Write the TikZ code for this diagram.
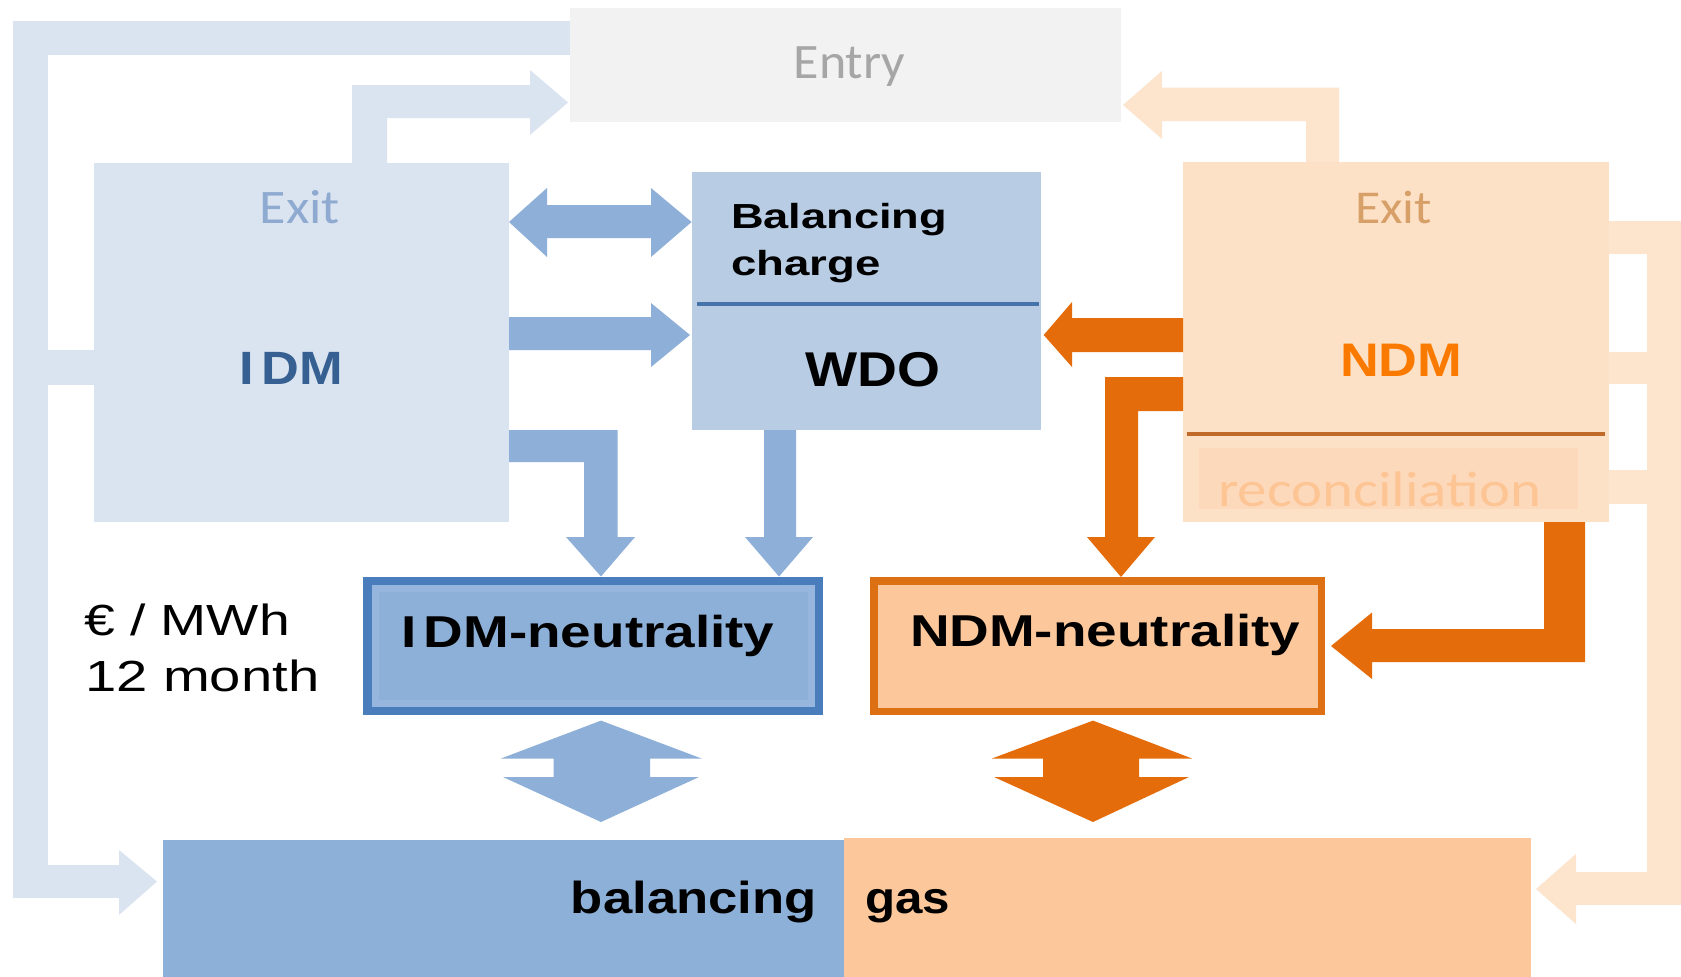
\documentclass[tikz,border=0pt]{standalone}
\usepackage{graphicx}
\usepackage{fontspec}
\setmainfont{Liberation Sans}
\newfontfamily\calibrifont{Carlito}
\newcommand{\myfs}[1]{\fontsize{#1pt}{#1pt}\selectfont}
\definecolor{lightblue}{RGB}{218,228,241}
\definecolor{lightpeach}{RGB}{253,228,204}
\definecolor{ndmbox}{RGB}{253,225,198}
\definecolor{reconfill}{RGB}{253,217,188}
\definecolor{recontxt}{RGB}{253,196,148}
\definecolor{entryfill}{RGB}{242,242,242}
\definecolor{entrytxt}{RGB}{166,166,166}
\definecolor{exitblue}{RGB}{143,170,208}
\definecolor{exittan}{RGB}{215,160,105}
\definecolor{idmtxt}{RGB}{54,96,146}
\definecolor{ndmtxt}{RGB}{250,122,0}
\definecolor{midblue}{RGB}{141,175,216}
\definecolor{wdofill}{RGB}{184,204,228}
\definecolor{wdoline}{RGB}{70,115,170}
\definecolor{darkblue}{RGB}{74,125,187}
\definecolor{bandblue}{RGB}{150,182,222}
\definecolor{neutblue}{RGB}{141,176,216}
\definecolor{orange}{RGB}{228,108,10}
\definecolor{neutorange}{RGB}{222,112,20}
\definecolor{peach}{RGB}{252,200,155}
\definecolor{brownline}{RGB}{192,105,40}
\tikzset{
  lbl/.style={inner sep=0pt, outer sep=0pt},
  lbfill/.style={fill=lightblue},
  pkfill/.style={fill=lightpeach},
  bluearrow/.style={fill=midblue},
  orangearrow/.style={fill=orange},
}
\begin{document}
\begin{tikzpicture}[x=0.02cm,y=-0.02cm]
\useasboundingbox[fill=white] (0,0) rectangle (1681,977);

% ---------- left light-blue frame ----------
\fill[lbfill] (13,21) rectangle (571,55);
\fill[lbfill] (13,21) rectangle (48,898);
\fill[lbfill] (48,350) rectangle (94,385);
\fill[lbfill] (13,865) rectangle (119,898);
\fill[lbfill] (119,850) -- (157,881.5) -- (119,915) -- cycle;
% IDM -> Entry
\fill[lbfill] (352,163) -- (352,85) -- (530,85) -- (530,70) -- (568,102.5)
  -- (530,135) -- (530,118) -- (387,118) -- (387,163) -- cycle;

% ---------- right peach frame ----------
\fill[pkfill] (1339,162) -- (1339,87.5) -- (1162,87.5) -- (1162,71) -- (1123,105)
  -- (1162,139) -- (1162,121) -- (1306,121) -- (1306,162) -- cycle;
\fill[pkfill] (1609,221) rectangle (1681,254);
\fill[pkfill] (1647,221) rectangle (1681,905);
\fill[pkfill] (1609,352) rectangle (1647,384);
\fill[pkfill] (1609,470) rectangle (1647,504);
\fill[pkfill] (1576,872) rectangle (1681,905);
\fill[pkfill] (1576,854) -- (1536,889) -- (1576,924) -- cycle;

% ---------- boxes ----------
\fill[entryfill] (570,8) rectangle (1121,122);
\fill[lightblue] (94,163) rectangle (509,522);
\fill[ndmbox] (1183,162) rectangle (1609,522);
\fill[reconfill] (1199,448) rectangle (1577.5,509);
\draw[brownline, line width=2.3pt] (1186.6,434) -- (1605,434);
\fill[wdofill] (692,172) rectangle (1041,430);
\draw[wdoline, line width=2.8pt] (697,304) -- (1039,304);

% IDM-neutrality
\fill[darkblue] (363,576.5) rectangle (823,715);
\fill[bandblue] (371.5,585) rectangle (814.5,706.5);
\fill[neutblue] (378.5,592) rectangle (807.5,699.5);
% NDM-neutrality
\fill[neutorange] (870,577.3) rectangle (1325,715);
\fill[peach] (877.5,585) rectangle (1317.5,707.5);

% balancing gas
\fill[neutblue] (162.5,840) rectangle (844,977);
\fill[peach] (844,838) rectangle (1531,977);

% ---------- blue arrows ----------
\fill[bluearrow] (509,222) -- (547,188) -- (547,205) -- (651,205) -- (651,188)
  -- (691.6,222) -- (651,257) -- (651,238) -- (547,238) -- (547,257) -- cycle;
\fill[bluearrow] (509,317) -- (651,317) -- (651,303) -- (690,335) -- (651,367)
  -- (651,350) -- (509,350) -- cycle;
\fill[bluearrow] (509,430) -- (617.5,430) -- (617.5,537) -- (635,537) -- (601,576.5)
  -- (566,537) -- (584,537) -- (584,462) -- (509,462) -- cycle;
\fill[bluearrow] (764,430) -- (796,430) -- (796,537) -- (813,537) -- (779,576.5)
  -- (745,537) -- (764,537) -- cycle;
\fill[bluearrow] (601,720.6) -- (701.5,758.5) -- (650,758.5) -- (650,777) -- (699,777)
  -- (601,822) -- (503,777) -- (553.6,777) -- (553.6,758.5) -- (501,758.5) -- cycle;

% ---------- orange arrows ----------
\fill[orangearrow] (1183,318) -- (1072,318) -- (1072,302) -- (1043.7,335) -- (1072,367)
  -- (1072,352) -- (1183,352) -- cycle;
\fill[orangearrow] (1183,377) -- (1105,377) -- (1105,537) -- (1087,537) -- (1121,577)
  -- (1155,537) -- (1138,537) -- (1138,411) -- (1183,411) -- cycle;
\fill[orangearrow] (1544,522) -- (1585,522) -- (1585,662) -- (1372,662) -- (1372,679)
  -- (1331,646) -- (1372,612.5) -- (1372,629) -- (1544,629) -- cycle;
\fill[orangearrow] (1093,720.6) -- (1192,758.5) -- (1139,758.5) -- (1139,777) -- (1189,777)
  -- (1093,822) -- (994,777) -- (1043,777) -- (1043,758.5) -- (992,758.5) -- cycle;

% ---------- texts ----------
\node[lbl, anchor=base, text=entrytxt, font={\calibrifont\myfs{28.2}}] (entrytext) at (849.5,78.3) {\scalebox{1.05}[1]{Entry}};
\node[lbl, anchor=base, text=exitblue, font={\calibrifont\myfs{27.4}}] (exitidm) at (300,223) {\scalebox{1.12}[1]{Exit}};
\node[lbl, anchor=base west, text=exittan, font={\calibrifont\myfs{26.8}}] (exitndm) at (1355,223) {\scalebox{1.1}[1]{Exit}};
\node[lbl, anchor=base west, text=idmtxt, font={\bfseries\myfs{26.6}}] (idmtext) at (239,384) {\scalebox{1.12}[1]{I\kern4.1pt DM}};
\node[lbl, anchor=base west, text=ndmtxt, font={\bfseries\myfs{26.8}}] (ndmtext) at (1340,376) {\scalebox{1.14}[1]{NDM}};
\node[lbl, anchor=base west, text=recontxt, font={\calibrifont\myfs{28.4}}] (recontext) at (1218,506.4) {\scalebox{1.18}[1]{reconciliation}};
\node[lbl, anchor=base west, font={\bfseries\myfs{19.8}}] (bal1) at (731,228) {\scalebox{1.3}[1]{Balancing}};
\node[lbl, anchor=base west, font={\bfseries\myfs{19.8}}] (bal2) at (731,275) {\scalebox{1.31}[1]{charge}};
\node[lbl, anchor=base, font={\bfseries\myfs{27.8}}] (wdotext) at (873,386.7) {\scalebox{1.13}[1]{WDO}};
\node[lbl, anchor=base west, font={\bfseries\myfs{25.4}}] (idmneut) at (401,647) {\scalebox{1.23}[1]{I\kern3.5pt DM-neutrality}};
\node[lbl, anchor=base west, font={\bfseries\myfs{25.4}}] (ndmneut) at (910,646.7) {\scalebox{1.23}[1]{NDM-neutrality}};
\node[lbl, anchor=base west, font={\myfs{24.8}}] (unit1) at (84,635) {\scalebox{1.27}[1]{€ / MWh}};
\node[lbl, anchor=base west, font={\myfs{24.8}}] (unit2) at (85,691.7) {\scalebox{1.29}[1]{12 month}};
\node[lbl, anchor=base east, font={\bfseries\myfs{25.5}}] (baltext) at (816.7,913.3) {\scalebox{1.175}[1]{balancing}};
\node[lbl, anchor=base west, font={\bfseries\myfs{25.5}}] (gastext) at (865,913.3) {\scalebox{1.1}[1]{gas}};
\end{tikzpicture}
\end{document}
